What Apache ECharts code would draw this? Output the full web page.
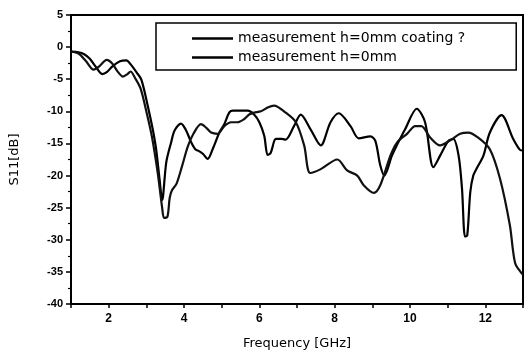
<!DOCTYPE html>
<html><head><meta charset="utf-8">
<script src="https://cdn.jsdelivr.net/npm/echarts@6/dist/echarts.min.js"></script>
<style>html,body{margin:0;padding:0;background:#fff}#c{width:528px;height:355px}</style>
</head><body><div id="c"></div>
<script>
var seriesNames = ['measurement h=0mm coating ?', 'measurement h=0mm'];
var freqA = [1.0,1.2,1.35,1.5,1.65,1.83,1.95,2.1,2.3,2.47,2.6,2.75,2.87,3.04,3.17,3.26,3.35,3.42,3.53,3.66,3.75,3.92,4.05,4.19,4.3,4.4,4.5,4.63,4.76,4.94,5.07,5.2,5.3,5.69,5.86,6.0,6.13,6.22,6.3,6.44,6.6,6.7,6.92,7.1,7.36,7.63,7.89,8.11,8.42,8.64,8.95,9.08,9.21,9.32,9.52,9.65,9.87,10.18,10.4,10.62,10.8,11.02,11.15,11.29,11.38,11.46,11.52,11.6,11.68,11.77,11.95,12.12,12.43,12.74,12.92,13.0];
var s11A = [-0.7,-0.8,-1.1,-1.8,-3.0,-4.2,-3.9,-3.0,-2.2,-2.06,-2.8,-4.0,-5.1,-9.2,-12.8,-15.9,-20.5,-23.8,-17.9,-14.8,-13.0,-11.9,-12.9,-14.8,-15.9,-16.2,-16.6,-17.4,-15.9,-13.3,-12.0,-10.2,-9.9,-9.9,-10.5,-11.7,-13.8,-16.8,-16.5,-14.3,-14.3,-14.4,-12.3,-10.5,-12.8,-15.3,-11.7,-10.3,-12.3,-14.2,-13.9,-14.6,-18.4,-20.0,-16.9,-15.3,-12.8,-9.6,-11.7,-18.7,-16.9,-14.6,-14.3,-16.9,-22.0,-29.5,-29.3,-22.6,-20.0,-18.9,-16.9,-13.3,-10.6,-14.3,-16.0,-16.1];
var freqB = [1.0,1.2,1.4,1.6,1.75,1.95,2.1,2.25,2.38,2.5,2.58,2.7,2.85,3.0,3.15,3.3,3.42,3.47,3.56,3.62,3.68,3.8,3.95,4.1,4.25,4.45,4.6,4.72,4.89,5.07,5.25,5.42,5.6,5.73,5.86,6.04,6.22,6.39,6.7,6.97,7.19,7.35,7.63,8.07,8.33,8.6,8.77,9.04,9.21,9.48,9.65,9.92,10.14,10.3,10.54,10.8,11.07,11.33,11.55,11.81,12.12,12.39,12.65,12.79,12.96,13.0];
var s11B = [-0.7,-1.0,-2.2,-3.5,-3.0,-2.0,-2.6,-3.9,-4.6,-4.2,-3.8,-4.8,-6.5,-10.0,-14.0,-19.5,-25.0,-26.6,-26.4,-23.5,-22.3,-21.3,-18.5,-15.5,-13.5,-12.0,-12.6,-13.3,-13.5,-12.3,-11.7,-11.7,-11.2,-10.5,-10.2,-10.0,-9.4,-9.1,-10.2,-11.7,-15.3,-19.6,-19.0,-17.5,-19.2,-20.0,-21.5,-22.7,-21.5,-16.9,-14.9,-13.5,-12.3,-12.3,-14.1,-15.3,-14.5,-13.5,-13.3,-14.1,-15.9,-20.5,-27.7,-33.6,-35.2,-35.4];
var xTicks = [2,4,6,8,10,12];

function pairs(xs, ys){ return xs.map(function(x,i){ return [x, ys[i]]; }); }

var font = 'Liberation Sans';
var chart = echarts.init(document.getElementById('c'));
chart.setOption({
  animation: false,
  backgroundColor: '#fff',
  grid: { left: 70, right: 5, top: 15, bottom: 49, show: true, borderColor: '#000', borderWidth: 2, backgroundColor: 'transparent' },
  legend: {
    left: 156, top: 23, orient: 'vertical',
    icon: 'rect', symbolKeepAspect: false,
    itemWidth: 41, itemHeight: 2.5, itemGap: 4,
    padding: [8, 51, 5, 36],
    borderColor: '#000', borderWidth: 1.5,
    itemStyle: { color: '#000' },
    textStyle: { fontFamily: 'DejaVu Sans', fontSize: 14, color: '#000', lineHeight: 15 },
    data: seriesNames
  },
  xAxis: {
    type: 'value', min: 1, max: 13, interval: 1,
    name: 'Frequency [GHz]', nameLocation: 'middle', nameGap: 33,
    nameTextStyle: { fontFamily: 'DejaVu Sans', fontSize: 13, color: '#000' },
    axisLine: { show: true, onZero: false, lineStyle: { color: '#000', width: 2 } },
    axisTick: { show: true, length: 4, lineStyle: { color: '#000', width: 1.5 } },
    axisLabel: { color: '#000', fontFamily: font, fontWeight: 'bold', fontSize: 12, margin: 9,
      formatter: function(v){ return xTicks.indexOf(v) >= 0 ? String(v) : ''; } },
    splitLine: { show: false }
  },
  yAxis: {
    type: 'value', min: -40, max: 5, interval: 5,
    name: 'S11[dB]', nameLocation: 'middle', nameGap: 50, nameRotate: 90,
    nameTextStyle: { fontFamily: 'DejaVu Sans', fontSize: 13, color: '#000' },
    axisLine: { show: true, onZero: false, lineStyle: { color: '#000', width: 2 } },
    axisTick: { show: true, length: 5, lineStyle: { color: '#000', width: 1.5 } },
    minorTick: { show: true, splitNumber: 2, length: 3, lineStyle: { color: '#000', width: 1.2 } },
    axisLabel: { color: '#000', fontFamily: font, fontWeight: 'bold', fontSize: 11, margin: 8 },
    splitLine: { show: false }
  },
  series: [
    { name: seriesNames[0], type: 'line', data: pairs(freqA, s11A), showSymbol: false, symbol: 'none', smooth: 0.3,
      lineStyle: { color: '#000', width: 2.2 }, itemStyle: { color: '#000' } },
    { name: seriesNames[1], type: 'line', data: pairs(freqB, s11B), showSymbol: false, symbol: 'none', smooth: 0.3,
      lineStyle: { color: '#111', width: 2.2 }, itemStyle: { color: '#111' } }
  ]
});
</script></body></html>
